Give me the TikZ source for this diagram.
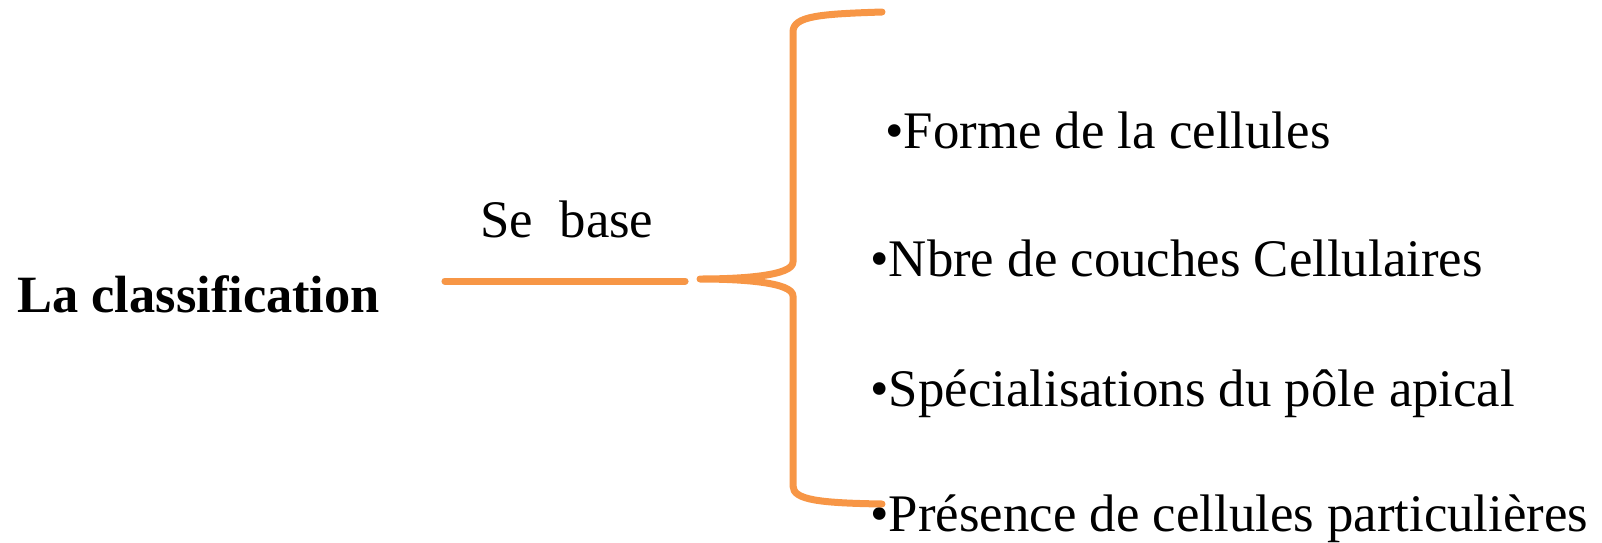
\documentclass[tikz,border=0pt]{standalone}
\usepackage{fontspec}
\setmainfont{Liberation Serif}
\definecolor{brorange}{HTML}{F79646}
\begin{document}
\begin{tikzpicture}[x=0.5pt,y=-0.5pt,
  txt/.style={anchor=base west,inner sep=0pt,font=\fontsize{26.4}{31}\selectfont},
  orangeline/.style={draw=brorange,line width=3.5pt,line cap=round,line join=round},
  shadowline/.style={draw=black,opacity=0.18,line width=3.5pt,line cap=round,line join=round}]
\useasboundingbox (0,0) rectangle (1602,542);
\node[txt,font=\fontsize{26.2}{31}\selectfont\bfseries] (cls) at (17,312) {La classification};
\node[txt] (se) at (480,237) {Se\ \ base};
\node[txt] (b1) at (885,148) {•Forme de la cellules};
\node[txt] (b2) at (870,276) {•Nbre de couches Cellulaires};
\node[txt] (b3) at (870,406) {•Spécialisations du pôle apical};
\node[txt] (b4) at (870,531) {•Présence de cellules particulières};
\coordinate (l1) at (445,281);
\coordinate (l2) at (685,281);
\coordinate (tip) at (700,279);
\coordinate (top) at (882,12);
\coordinate (bot) at (882,504);
\begin{scope}[shift={(1,3)}]
\draw[shadowline] (l1) -- (l2);
\end{scope}
\draw[orangeline] (l1) -- (l2);
\draw[orangeline] (top) .. controls (820,14) and (793,16) .. (793,32) -- (793,262)
  .. controls (793,276) and (740,279) .. (tip)
  .. controls (740,279) and (793,282) .. (793,296) -- (793,486)
  .. controls (793,500) and (820,503) .. (bot);
\end{tikzpicture}
\end{document}
